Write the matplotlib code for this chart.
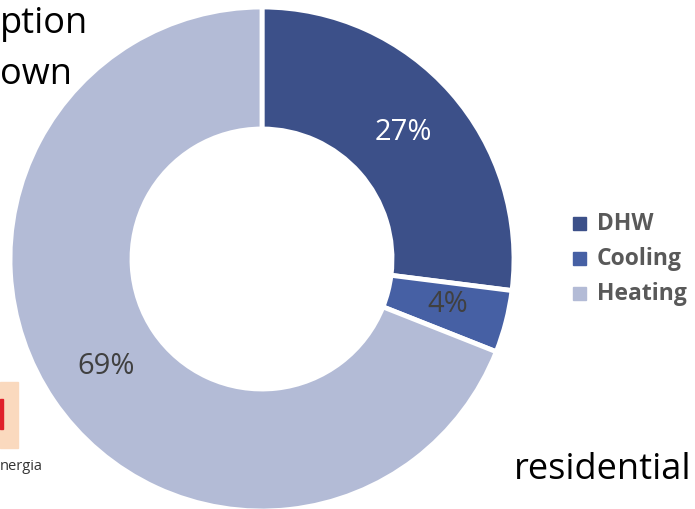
import matplotlib.pyplot as plt
from matplotlib.patches import Rectangle

labels = ["DHW", "Cooling", "Heating"]
shares = [27, 4, 69]
colors = ["#3C5089", "#4660A4", "#B3BBD6"]
pct_colors = ["white", "#404040", "#404040"]

plt.rcParams["font.family"] = ["Open Sans", "DejaVu Sans"]

fig = plt.figure(figsize=(6.95, 5.09), dpi=100)
ax = fig.add_axes([0, 0, 1, 1])

wedges, texts = ax.pie(shares, colors=colors, startangle=90, counterclock=False,
                       center=(262, 250), radius=252, frame=True,
                       wedgeprops=dict(width=122, edgecolor="white", linewidth=3.5))
ax.set_xlim(0, 695)
ax.set_ylim(0, 509)
ax.set_aspect("equal")
ax.axis("off")

# percentage labels
pos = [(403, 377), (448, 205), (106, 142)]
for (x, y), v, c in zip(pos, shares, pct_colors):
    ax.text(x, y, f"{v}%", color=c, fontsize=21, ha="center", va="center")

# legend
for i, (lab, c) in enumerate(zip(labels, colors)):
    y = 285 - i * 35
    ax.add_patch(Rectangle((573, y - 6), 13, 13, color=c))
    ax.text(597, y, lab, fontsize=16.5, fontweight="bold", color="#595959", va="center")

# visible parts of the cropped title / caption
ax.text(0, 485, "ption", fontsize=26, ha="left", va="center")
ax.text(0, 434, "own", fontsize=26, ha="left", va="center")
ax.text(514, 39, "residential", fontsize=26, ha="left", va="center")

# logo fragment
ax.add_patch(Rectangle((0, 61), 18, 66, color="#FAD9BE"))
ax.add_patch(Rectangle((0, 80), 3, 30, color="#E0202A"))
ax.text(0, 43, "nergia", fontsize=10.5, ha="left", va="center", color="#333333")

fig.savefig("out.png", dpi=100)
